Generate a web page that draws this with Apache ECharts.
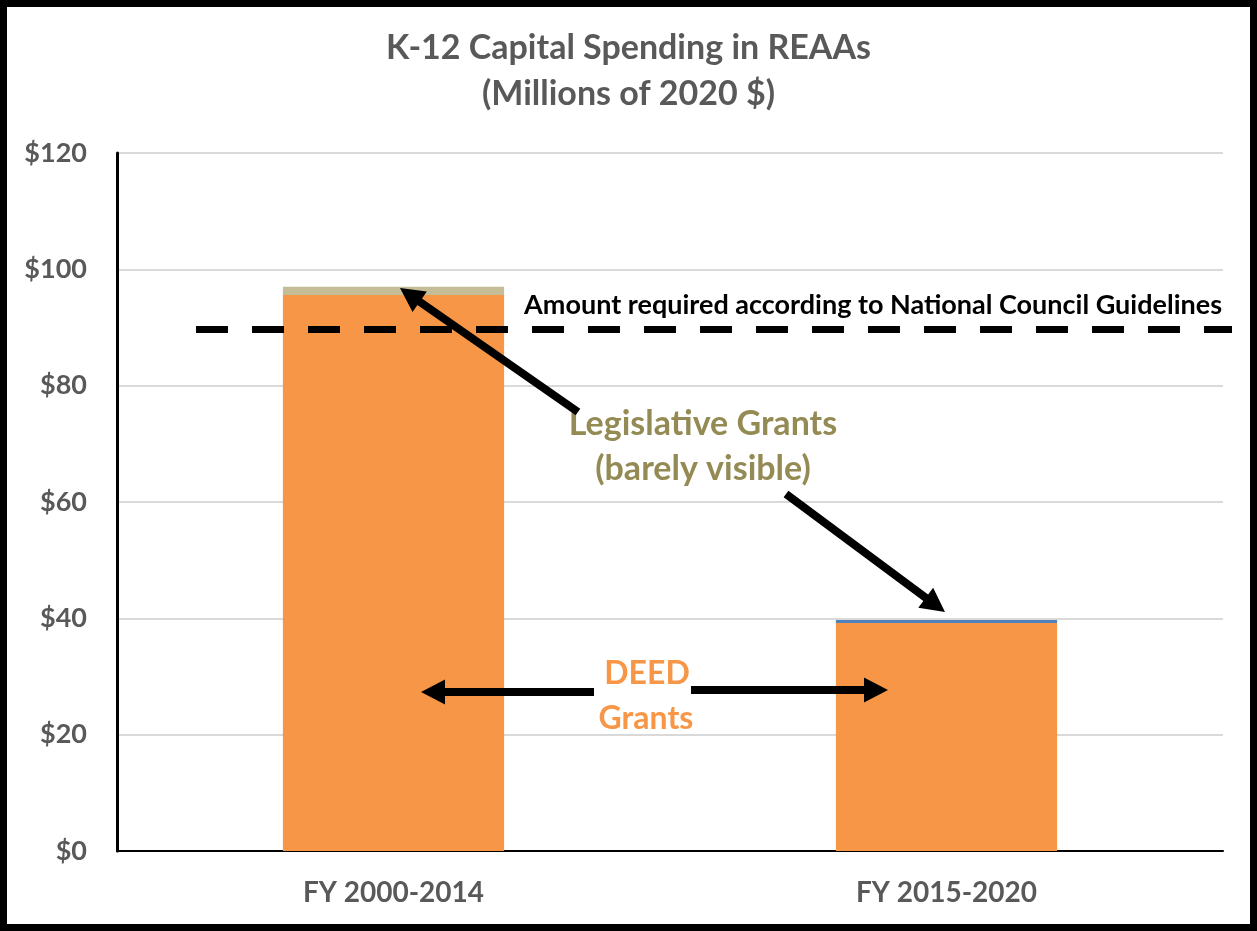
<!DOCTYPE html>
<html>
<head>
<meta charset="utf-8">
<script src="https://cdn.jsdelivr.net/npm/echarts@6/dist/echarts.min.js"></script>
<style>
  html, body { margin: 0; padding: 0; background: #ffffff; }
  #chart { width: 1257px; height: 931px; }
</style>
</head>
<body>
<div id="chart"></div>
<script>
// Capital spending in REAAs, millions of 2020 dollars
const periods = ['FY 2000-2014', 'FY 2015-2020'];
const deedGrants = [95.6, 39.2];
const legislativeGrants = [1.4, 0.5];
const guidelineAmount = 89.7;
const yMin = 0, yMax = 120, yStep = 20;

const FONT = 'Lato, "Open Sans", sans-serif';
const GREY = '#595959';
const ORANGE = '#F79646';
const TAN = '#C4BD97';
const BLUE = '#4F81BD';
const OLIVE = '#948A54';
const legislativeColors = [TAN, BLUE];

// Filled arrow outline: shaft plus triangular head, tip at (x2, y2)
function arrowPoints(x1, y1, x2, y2, shaft, headLen, headW) {
  const dx = x2 - x1, dy = y2 - y1, len = Math.hypot(dx, dy);
  const ux = dx / len, uy = dy / len, nx = -uy, ny = ux;
  const bx = x2 - ux * headLen, by = y2 - uy * headLen;
  const s = shaft / 2, h = headW / 2;
  return [
    [x1 + nx * s, y1 + ny * s], [bx + nx * s, by + ny * s], [bx + nx * h, by + ny * h],
    [x2, y2],
    [bx - nx * h, by - ny * h], [bx - nx * s, by - ny * s], [x1 - nx * s, y1 - ny * s]
  ];
}
function arrow(x1, y1, x2, y2) {
  return { type: 'polygon', z: 100, shape: { points: arrowPoints(x1, y1, x2, y2, 8, 24, 25) }, style: { fill: '#000' } };
}
function note(text, x, y, size, color) {
  return { type: 'text', z: 100, x: x, y: y,
    style: { text: text, font: 'bold ' + size + 'px ' + FONT, fill: color, textAlign: 'center', textVerticalAlign: 'middle' } };
}

const chart = echarts.init(document.getElementById('chart'), null, { renderer: 'canvas' });
chart.setOption({
  backgroundColor: '#ffffff',
  animation: false,
  title: {
    text: 'K-12 Capital Spending in REAAs\n(Millions of 2020 $)',
    left: 'center',
    top: 20,
    textStyle: { fontFamily: FONT, fontWeight: 'bold', fontSize: 34, color: GREY, lineHeight: 46, align: 'center' }
  },
  grid: { left: 117, right: 34, top: 153, bottom: 80, containLabel: false },
  xAxis: {
    type: 'category',
    data: periods,
    axisLine: { lineStyle: { color: '#000', width: 2 } },
    axisTick: { show: false },
    axisLabel: { fontFamily: FONT, fontWeight: 'bold', fontSize: 28, color: GREY, margin: 28 }
  },
  yAxis: {
    type: 'value',
    min: yMin, max: yMax, interval: yStep,
    axisLine: { show: true, lineStyle: { color: '#000', width: 3 } },
    axisTick: { show: false },
    splitLine: { lineStyle: { color: '#D9D9D9', width: 2 } },
    axisLabel: { fontFamily: FONT, fontWeight: 'bold', fontSize: 27, color: GREY, margin: 30, formatter: v => '$' + v }
  },
  series: [
    {
      name: 'DEED Grants',
      type: 'bar',
      stack: 'spend',
      barWidth: '40%',
      data: deedGrants,
      itemStyle: { color: ORANGE },
      markLine: {
        silent: true,
        symbol: 'none',
        lineStyle: { color: '#000', width: 7, type: [32, 24] },
        label: {
          show: true,
          position: 'insideEndTop',
          distance: 10,
          formatter: 'Amount required according to National Council Guidelines',
          fontFamily: FONT, fontWeight: 'bold', fontSize: 27, color: '#000'
        },
        data: [[{ x: 196, yAxis: guidelineAmount }, { x: 1232, yAxis: guidelineAmount }]]
      }
    },
    {
      name: 'Legislative Grants',
      type: 'bar',
      stack: 'spend',
      barWidth: '40%',
      data: legislativeGrants,
      itemStyle: { color: p => legislativeColors[p.dataIndex] }
    }
  ],
  graphic: [
    { type: 'rect', z: 100, shape: { x: 3.5, y: 3.5, width: 1250, height: 924 }, style: { fill: 'none', stroke: '#000', lineWidth: 7 } },
    note('Legislative Grants', 703, 424, 34, OLIVE),
    note('(barely visible)', 703, 469, 34, OLIVE),
    note('DEED', 647, 674, 32, ORANGE),
    note('Grants', 646, 719, 32, ORANGE),
    arrow(578, 412, 400, 288),
    arrow(786, 494, 945, 612),
    arrow(594, 692, 421, 692),
    arrow(691, 690, 888, 690)
  ]
});
</script>
</body>
</html>
